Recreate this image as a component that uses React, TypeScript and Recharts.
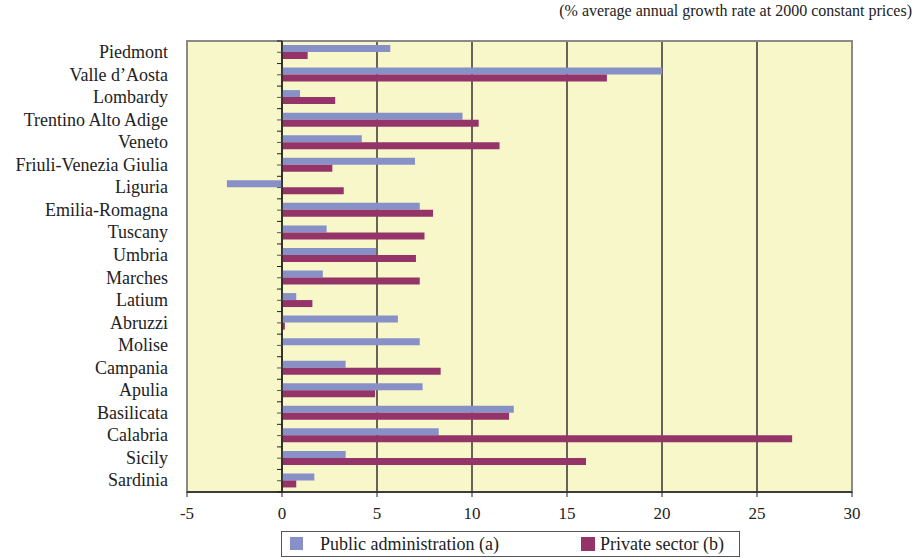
import React from "react";
import {
  BarChart,
  Bar,
  XAxis,
  YAxis,
  CartesianGrid,
  ReferenceLine,
  ReferenceArea,
} from "recharts";

const regions = [
  "Piedmont",
  "Valle d\u2019Aosta",
  "Lombardy",
  "Trentino Alto Adige",
  "Veneto",
  "Friuli-Venezia Giulia",
  "Liguria",
  "Emilia-Romagna",
  "Tuscany",
  "Umbria",
  "Marches",
  "Latium",
  "Abruzzi",
  "Molise",
  "Campania",
  "Apulia",
  "Basilicata",
  "Calabria",
  "Sicily",
  "Sardinia",
];

const publicAdmin = [
  5.7, 20.0, 0.95, 9.5, 4.2, 7.0, -2.9, 7.25, 2.35, 4.95,
  2.15, 0.75, 6.1, 7.25, 3.35, 7.4, 12.2, 8.25, 3.35, 1.7,
];

const privateSector = [
  1.35, 17.1, 2.8, 10.35, 11.45, 2.65, 3.25, 7.95, 7.5, 7.05,
  7.25, 1.6, 0.15, 0, 8.35, 4.9, 11.95, 26.85, 16.0, 0.75,
];

const xTicks = [-5, 0, 5, 10, 15, 20, 25, 30];

const data = regions.map((name, i) => ({
  name,
  pub: publicAdmin[i],
  priv: privateSector[i],
}));

const W = 915;
const H = 558;
const M = { top: 41, right: 63, bottom: 0, left: 0 };
const Y_W = 187;
const X_H = 66;
const FONT = '"Liberation Serif", "Times New Roman", serif';
const PUB = "#8890C8";
const PRIV = "#953468";
const BG = "#F7F7C9";

const plotLeft = M.left + Y_W;
const plotW = W - plotLeft - M.right;
const plotH = H - M.top - M.bottom - X_H;
const zeroX = plotLeft + ((0 - xTicks[0]) / (xTicks[xTicks.length - 1] - xTicks[0])) * plotW;
const band = plotH / regions.length;

function RegionTick(props: any) {
  const { x, y, payload, index } = props;
  const last = index === regions.length - 1;
  return (
    <g>
      <text
        x={x - 11}
        y={y}
        dy="0.32em"
        textAnchor="end"
        fontFamily={FONT}
        fontSize={18}
        fill="#222"
      >
        {payload.value}
      </text>
      <line x1={zeroX - 5} x2={zeroX} y1={y - band / 2} y2={y - band / 2} stroke="#222" />
      <line x1={zeroX - 5} x2={zeroX} y1={y} y2={y} stroke="#555" />
      {last && (
        <line x1={zeroX - 5} x2={zeroX} y1={y + band / 2} y2={y + band / 2} stroke="#222" />
      )}
    </g>
  );
}

export default function App() {
  return (
    <div style={{ position: "absolute", left: 0, top: 0, width: W, height: H, background: "#fff" }}>
      <div
        style={{
          position: "absolute",
          right: 3,
          top: 2,
          fontFamily: FONT,
          fontSize: 16,
          color: "#222",
          whiteSpace: "nowrap",
        }}
      >
        (% average annual growth rate at 2000 constant prices)
      </div>
      <BarChart
        width={W}
        height={H}
        data={data}
        layout="vertical"
        margin={M}
        barGap={0}
        barSize={7}
      >
        <CartesianGrid horizontal={false} stroke="#333" fill={BG} strokeWidth={1.5} />
        <XAxis
          type="number"
          domain={[-5, 30]}
          ticks={xTicks}
          height={X_H}
          tickSize={5}
          tickMargin={10}
          axisLine={{ stroke: "#222", strokeWidth: 1.5 }}
          tickLine={{ stroke: "#222" }}
          tick={{ fontFamily: FONT, fontSize: 17, fill: "#222" }}
        />
        <YAxis
          type="category"
          dataKey="name"
          width={Y_W}
          axisLine={false}
          tickLine={false}
          interval={0}
          tick={<RegionTick />}
        />
        <ReferenceArea x1={-5} x2={30} fill="none" stroke="#8a8a8a" strokeWidth={2} />
        <ReferenceLine x={0} stroke="#222" strokeWidth={1.5} />
        <Bar dataKey="pub" fill={PUB} isAnimationActive={false} />
        <Bar dataKey="priv" fill={PRIV} isAnimationActive={false} />
      </BarChart>
      <div
        style={{
          position: "absolute",
          left: 281,
          top: 531,
          width: 457,
          height: 24,
          border: "1px solid #555",
          fontFamily: FONT,
          fontSize: 18,
          lineHeight: "22px",
          color: "#222",
        }}
      >
        <div style={{ position: "absolute", left: 8, top: 5, width: 13, height: 13, background: PUB }} />
        <div style={{ position: "absolute", left: 38, top: 1, whiteSpace: "nowrap" }}>
          Public administration (a)
        </div>
        <div style={{ position: "absolute", left: 299, top: 5, width: 14, height: 14, background: PRIV }} />
        <div style={{ position: "absolute", left: 318, top: 1, whiteSpace: "nowrap" }}>
          Private sector (b)
        </div>
      </div>
    </div>
  );
}
